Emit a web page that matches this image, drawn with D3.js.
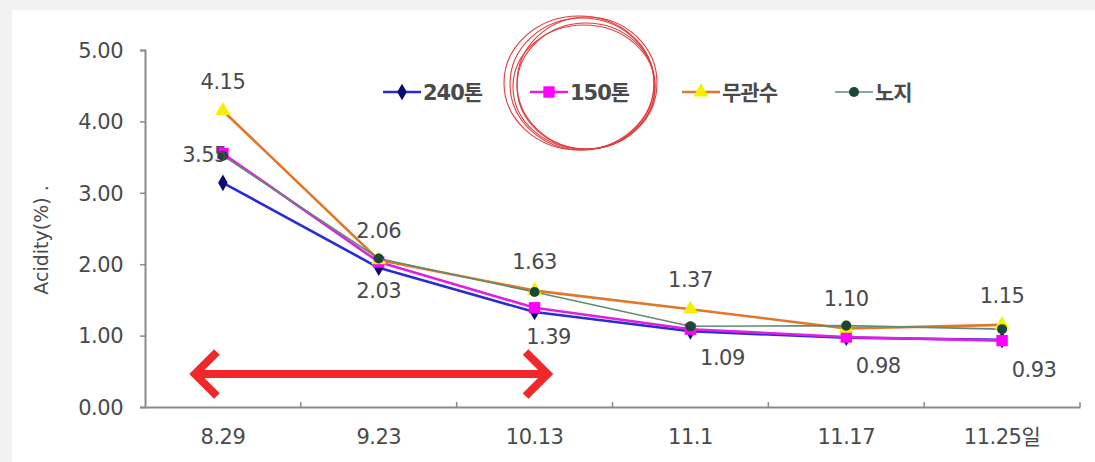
<!DOCTYPE html>
<html>
<head>
<meta charset="utf-8">
<script src="https://cdn.jsdelivr.net/npm/d3@7"></script>
<style>
  html, body { margin: 0; padding: 0; background: #f2f2f2; }
  svg { display: block; }
  text { font-family: "DejaVu Sans", "Noto Sans CJK KR", sans-serif; }
</style>
</head>
<body>
<svg id="chart" width="1095" height="462"></svg>
<script>
// Sampling dates (x categories)
const dates = ["8.29", "9.23", "10.13", "11.1", "11.17", "11.25일"];

// Acidity (%) per treatment
const series240 = [3.14, 1.95, 1.33, 1.06, 0.97, 0.94];
const series150 = [3.55, 2.03, 1.39, 1.09, 0.98, 0.93];
const seriesNone = [4.15, 2.06, 1.63, 1.37, 1.10, 1.15];
const seriesOpen = [3.52, 2.08, 1.61, 1.13, 1.14, 1.09];

const seriesNames = ["240톤", "150톤", "무관수", "노지"];

// Y axis ticks
const yTicks = [0, 1, 2, 3, 4, 5];

// Value labels: [series index, date index, placement]
const labelSpecs = [
  [2, 0, "above"], [1, 0, "left"],
  [2, 1, "above"], [1, 1, "below"],
  [2, 2, "above"], [1, 2, "belowRight"],
  [2, 3, "above"], [1, 3, "belowRight"],
  [2, 4, "above"], [1, 4, "belowRight"],
  [2, 5, "above"], [1, 5, "belowRight"]
];

const fontStack = "'DejaVu Sans', 'Noto Sans CJK KR', sans-serif";
const svg = d3.select("#chart");

// white panel
svg.append("rect").attr("x", 12).attr("y", 10).attr("width", 1083).attr("height", 452).attr("fill", "#ffffff");

const plot = { left: 145, right: 1080, top: 50, bottom: 407 };

const x = d3.scaleBand().domain(dates).range([plot.left, plot.right]).paddingInner(0).paddingOuter(0);
const y = d3.scaleLinear().domain([0, 5]).range([plot.bottom, plot.top]);
const cx = d => x(d) + x.bandwidth() / 2;

const axisColor = "#8a8a8a";
const textColor = "#4a4a4a";

// Y axis
const yAxis = svg.append("g").attr("transform", `translate(${plot.left},0)`)
  .call(d3.axisLeft(y).tickValues(yTicks).tickSize(5).tickPadding(17).tickFormat(d3.format(".2f")));
yAxis.select(".domain").attr("stroke", axisColor).attr("stroke-width", 2);
yAxis.selectAll(".tick line").attr("stroke", axisColor).attr("stroke-width", 1.5);
yAxis.selectAll(".tick text").attr("fill", textColor).attr("font-size", 21).attr("dy", "0.35em")
  .attr("letter-spacing", -0.5).style("font-family", fontStack);

// X axis
const xAxis = svg.append("g").attr("transform", `translate(0,${plot.bottom})`)
  .call(d3.axisBottom(x).tickSize(0).tickPadding(22));
xAxis.select(".domain").attr("stroke", axisColor).attr("stroke-width", 2);
xAxis.selectAll(".tick text").attr("fill", textColor).attr("font-size", 21)
  .attr("letter-spacing", -0.5).style("font-family", fontStack);
// boundary ticks between categories
const boundaries = dates.map(d => x(d)).concat([plot.right]).slice(1);
xAxis.selectAll(".bound").data(boundaries).enter().append("line")
  .attr("x1", d => d).attr("x2", d => d).attr("y1", 0).attr("y2", -5)
  .attr("stroke", axisColor).attr("stroke-width", 1.5);

// Y axis title
svg.append("text")
  .attr("transform", "translate(48,240) rotate(-90)")
  .attr("text-anchor", "middle")
  .attr("fill", textColor).attr("font-size", 19)
  .text("Acidity(%)  .");

const allSeries = [
  { name: seriesNames[0], values: series240, line: "#2b2bd6", marker: "#0a0a70", shape: d3.symbolDiamond, size: 80, width: 2.6 },
  { name: seriesNames[1], values: series150, line: "#e020e0", marker: "#ff00ff", shape: d3.symbolSquare, size: 130, width: 2.6 },
  { name: seriesNames[2], values: seriesNone, line: "#e2762a", marker: "#f5f000", shape: d3.symbolTriangle, size: 100, width: 2.6 },
  { name: seriesNames[3], values: seriesOpen, line: "#5f8c72", marker: "#1c4636", shape: d3.symbolCircle, size: 80, width: 1.6 }
];

const line = d3.line().x((v, i) => cx(dates[i])).y(v => y(v));

const lines = svg.append("g");
allSeries.forEach(s => {
  lines.append("path").attr("d", line(s.values))
    .attr("fill", "none").attr("stroke", s.line).attr("stroke-width", s.width)
    .attr("stroke-linejoin", "round");
});
const markers = svg.append("g");
allSeries.forEach(s => {
  markers.selectAll(null).data(s.values).enter().append("path")
    .attr("d", d3.symbol().type(s.shape).size(s.size))
    .attr("transform", (v, i) => `translate(${cx(dates[i])},${y(v)})`)
    .attr("fill", s.marker);
});

// value labels
const labels = svg.append("g").attr("fill", textColor).attr("font-size", 21).attr("letter-spacing", -0.5);
labelSpecs.forEach(([si, di, pos]) => {
  const v = allSeries[si].values[di];
  let px = cx(dates[di]), py = y(v), anchor = "middle";
  if (pos === "above") py -= 22;
  else if (pos === "below") py += 36;
  else if (pos === "belowRight") { px += di === 2 ? 14 : 32; py += 36; }
  else if (pos === "left") { px += 4; anchor = "end"; py += 8; }
  labels.append("text").attr("x", px).attr("y", py).attr("text-anchor", anchor).text(v.toFixed(2));
});

// legend
const legendX = [383, 530, 682, 835];
const legend = svg.append("g");
allSeries.forEach((s, i) => {
  const lx = legendX[i], ly = 92;
  legend.append("line").attr("x1", lx).attr("x2", lx + 38).attr("y1", ly).attr("y2", ly)
    .attr("stroke", s.line).attr("stroke-width", s.width);
  legend.append("path").attr("d", d3.symbol().type(s.shape).size(s.size))
    .attr("transform", `translate(${lx + 19},${ly})`).attr("fill", s.marker);
  legend.append("text").attr("x", lx + 40).attr("y", ly + 8)
    .attr("fill", textColor).attr("font-size", 21).attr("font-weight", "bold")
    .attr("letter-spacing", -1)
    .text(s.name);
});

// hand-drawn highlight rings around the 150톤 legend entry
const rings = [[582, 84, 72, 66], [586, 86, 69, 63], [579, 83, 75, 67], [584, 87, 71, 62], [587, 83, 70, 66]];
svg.append("g").selectAll("ellipse").data(rings).enter().append("ellipse")
  .attr("cx", d => d[0]).attr("cy", d => d[1]).attr("rx", d => d[2]).attr("ry", d => d[3])
  .attr("fill", "none").attr("stroke", "#e23b3b").attr("stroke-width", 1.1);

// red double-headed arrow spanning 8.29 – 10.13
const ax0 = cx(dates[0]) - 28, ax1 = cx(dates[2]) + 13, ay = 374;
const arrow = svg.append("g").attr("stroke", "#f0282a").attr("stroke-width", 8).attr("fill", "none");
arrow.append("line").attr("x1", ax0 + 4).attr("x2", ax1 - 4).attr("y1", ay).attr("y2", ay);
arrow.append("polyline").attr("points", `${ax0 + 22},${ay - 22} ${ax0},${ay} ${ax0 + 22},${ay + 22}`);
arrow.append("polyline").attr("points", `${ax1 - 22},${ay - 22} ${ax1},${ay} ${ax1 - 22},${ay + 22}`);
</script>
</body>
</html>
